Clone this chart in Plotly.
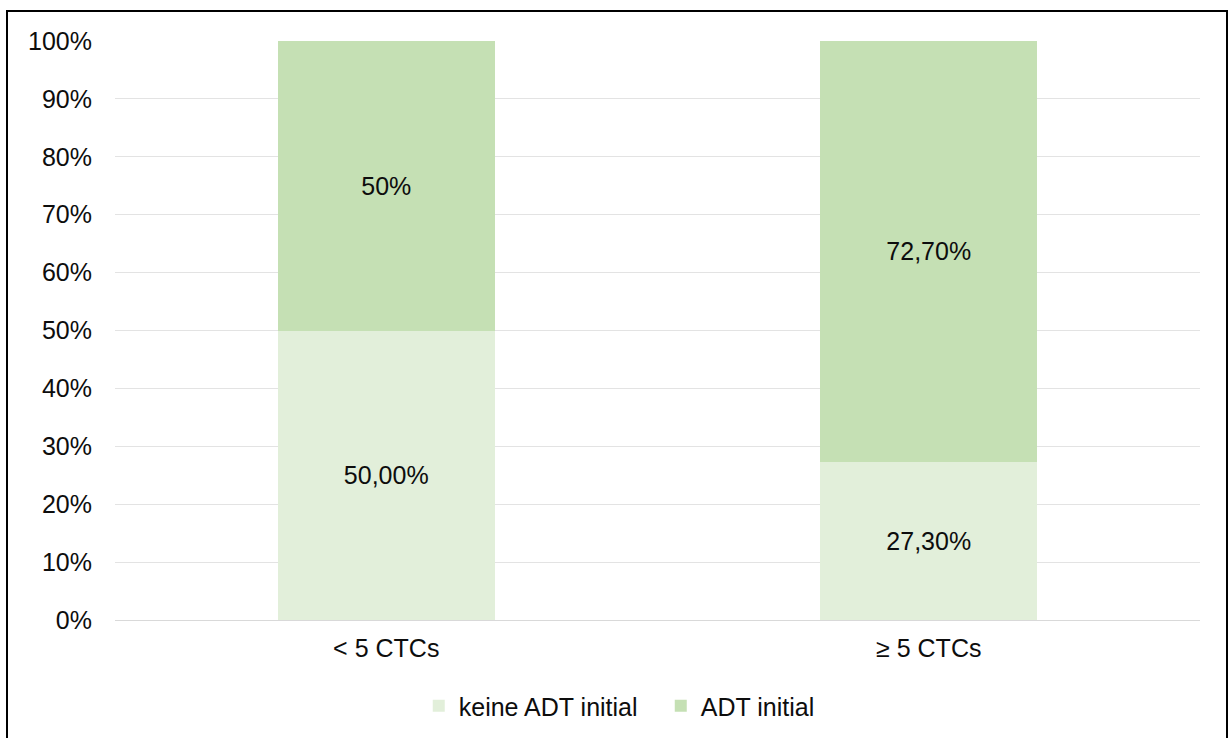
import plotly.graph_objects as go

# data
categories = ['< 5 CTCs', '≥ 5 CTCs']
keine_adt = [50.0, 27.3]
adt = [50.0, 72.7]
keine_labels = ['50,00%', '27,30%']
adt_labels = ['50%', '72,70%']
y_ticks = list(range(0, 101, 10))

font = dict(family='Liberation Sans, Arial, sans-serif', size=25, color='#0d0d0d')

fig = go.Figure()
fig.add_trace(go.Bar(x=categories, y=keine_adt, name='keine ADT initial',
                     marker=dict(color='#E2EFDA', line=dict(width=0)),
                     text=keine_labels, textposition='inside', insidetextanchor='middle',
                     textfont=font, width=0.4))
fig.add_trace(go.Bar(x=categories, y=adt, name='ADT initial',
                     marker=dict(color='#C5E0B4', line=dict(width=0)),
                     text=adt_labels, textposition='inside', insidetextanchor='middle',
                     textfont=font, width=0.4))

fig.update_layout(
    barmode='stack',
    width=1229, height=738,
    margin=dict(l=115, r=29, t=41, b=118, autoexpand=False),
    paper_bgcolor='white', plot_bgcolor='white',
    font=font,
    uniformtext=dict(minsize=25, mode='show'),
    legend=dict(orientation='h', x=0.503, xanchor='center',
                yref='container', y=1 - 706 / 738, yanchor='middle',
                font=font, traceorder='normal', itemwidth=30,
                entrywidth=197, entrywidthmode='pixels'),
    xaxis=dict(showline=True, linecolor='#d9d9d9', linewidth=1, ticks='',
               tickfont=font, showgrid=False, ticklabelstandoff=6),
    yaxis=dict(range=[0, 100], tickvals=y_ticks, ticktext=[f'{v}%' for v in y_ticks],
               showgrid=True, gridcolor='#e3e3e3', gridwidth=1, zeroline=False,
               tickfont=font, ticklabelstandoff=22),
)

# outer frame
fig.add_shape(type='rect', xref='paper', yref='paper',
              x0=(7 - 115) / 1085, x1=(1227 - 115) / 1085,
              y0=(620 - 745) / 579, y1=(620 - 11) / 579,
              line=dict(color='black', width=2), fillcolor='rgba(0,0,0,0)', layer='above')

fig.write_html('out.html', config={'displayModeBar': False},
               post_script="document.body.style.margin='0';")
